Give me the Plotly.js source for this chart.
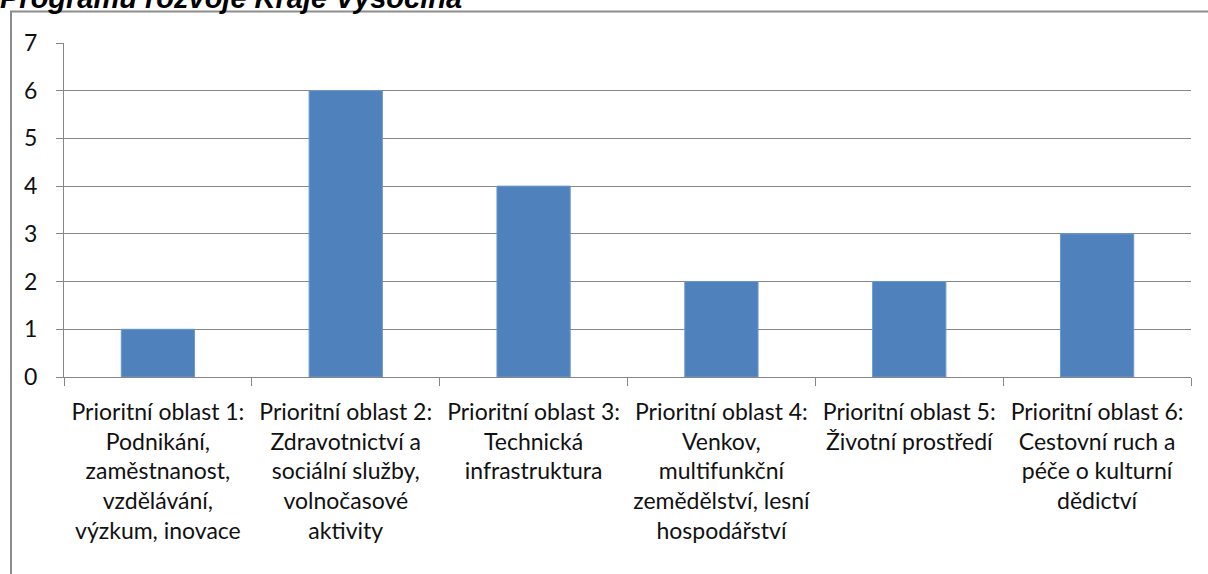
<!DOCTYPE html>
<html>
<head>
<meta charset="utf-8">
<script src="https://cdn.plot.ly/plotly-3.0.1.min.js"></script>
<style>
  html, body { margin: 0; padding: 0; background: #fff; }
  #chart { width: 1208px; height: 574px; }
</style>
</head>
<body>
<div id="chart"></div>
<script>
var titleText = "Programu rozvoje Kraje Vysočina";

var categories = ["PO1", "PO2", "PO3", "PO4", "PO5", "PO6"];

var categoryLabels = [
  "Prioritní oblast 1:<br>Podnikání,<br>zaměstnanost,<br>vzdělávání,<br>výzkum, inovace",
  "Prioritní oblast 2:<br>Zdravotnictví a<br>sociální služby,<br>volnočasové<br>aktivity",
  "Prioritní oblast 3:<br>Technická<br>infrastruktura",
  "Prioritní oblast 4:<br>Venkov,<br>multifunkční<br>zemědělství, lesní<br>hospodářství",
  "Prioritní oblast 5:<br>Životní prostředí",
  "Prioritní oblast 6:<br>Cestovní ruch a<br>péče o kulturní<br>dědictví"
];

var values = [1, 6, 4, 2, 2, 3];

var yTicks = [0, 1, 2, 3, 4, 5, 6, 7];

var trace = {
  type: "bar",
  x: categories,
  y: values,
  marker: { color: "#4F81BD", line: { color: "#6A98CF", width: 1 } },
  hoverinfo: "y"
};

var layout = {
  width: 1208,
  height: 574,
  margin: { l: 64, r: 17, t: 43, b: 197, pad: 0 },
  paper_bgcolor: "#ffffff",
  plot_bgcolor: "#ffffff",
  showlegend: false,
  bargap: 0.61,
  title: {
    text: titleText,
    font: { family: "Liberation Sans, Arial, sans-serif", size: 29, weight: "bold", style: "italic", color: "#000000" },
    x: 0.0,
    xref: "container",
    xanchor: "left",
    y: 1 - 8 / 574,
    yref: "container",
    yanchor: "bottom",
    pad: { t: 0, b: 0, l: 0, r: 0 }
  },
  font: { family: "Lato, Carlito, Calibri, sans-serif", size: 22, color: "#111111" },
  xaxis: {
    type: "category",
    tickmode: "array",
    tickvals: categories,
    ticktext: categoryLabels,
    tickson: "boundaries",
    ticks: "outside",
    ticklen: 8,
    tickcolor: "#878787",
    tickwidth: 1,
    showline: true,
    linecolor: "#878787",
    linewidth: 1,
    showgrid: false,
    tickangle: 0,
    ticklabelstandoff: 14,
    tickfont: { family: "Lato, Carlito, Calibri, sans-serif", size: 23, color: "#111111" },
    fixedrange: true
  },
  yaxis: {
    range: [0, 7],
    tickmode: "array",
    tickvals: yTicks,
    ticktext: yTicks.map(String),
    ticks: "outside",
    ticklen: 7,
    tickcolor: "#878787",
    showline: true,
    linecolor: "#878787",
    linewidth: 1,
    showgrid: true,
    gridcolor: "#878787",
    gridwidth: 1,
    zeroline: false,
    ticklabelstandoff: 14,
    tickfont: { family: "Lato, Carlito, Calibri, sans-serif", size: 23, color: "#111111" },
    fixedrange: true
  },
  shapes: [{
    type: "rect",
    xref: "paper",
    yref: "paper",
    x0: (11 - 64) / 1127,
    x1: 1.2,
    y0: -1,
    y1: (377 - 11.5) / 334,
    line: { color: "#8c8c8c", width: 2 },
    fillcolor: "rgba(0,0,0,0)",
    layer: "below"
  }]
};

Plotly.newPlot("chart", [trace], layout, { displayModeBar: false, staticPlot: true });
</script>
</body>
</html>
